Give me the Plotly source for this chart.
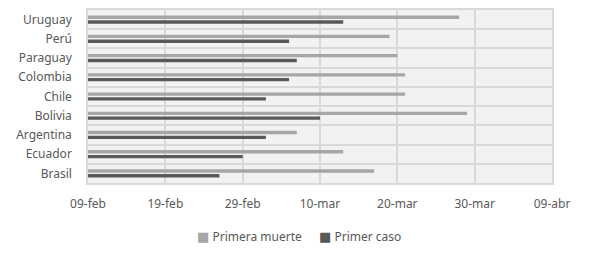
import plotly.graph_objects as go

countries = ["Brasil", "Ecuador", "Argentina", "Bolivia", "Chile", "Colombia", "Paraguay", "Perú", "Uruguay"]
primera_muerte = ["2020-03-17", "2020-03-13", "2020-03-07", "2020-03-29", "2020-03-21",
                  "2020-03-21", "2020-03-20", "2020-03-19", "2020-03-28"]
primer_caso = ["2020-02-26", "2020-02-29", "2020-03-03", "2020-03-10", "2020-03-03",
               "2020-03-06", "2020-03-07", "2020-03-06", "2020-03-13"]
tick_dates = ["2020-02-09", "2020-02-19", "2020-02-29", "2020-03-10", "2020-03-20", "2020-03-30", "2020-04-09"]
tick_labels = ["09-feb", "19-feb", "29-feb", "10-mar", "20-mar", "30-mar", "09-abr"]
series_names = ["Primera muerte", "Primer caso"]
series_colors = ["#a6a6a6", "#595959"]

ypos = list(range(len(countries)))
boundaries = [i - 0.5 for i in range(len(countries) + 1)]

FONT = "Noto Sans"
TXT = "#595959"

fig = go.Figure()
fig.add_trace(go.Bar(y=ypos, x=primer_caso, orientation="h", name=series_names[1],
                     marker=dict(color=series_colors[1], line=dict(width=0))))
fig.add_trace(go.Bar(y=ypos, x=primera_muerte, orientation="h", name=series_names[0],
                     marker=dict(color=series_colors[0], line=dict(width=0))))

legend_x = [0.2305, 0.4935]
for name, col, lx in zip(series_names, series_colors, legend_x):
    fig.add_annotation(xref="paper", yref="paper", x=lx, y=-0.309, xanchor="left", yanchor="middle",
                       showarrow=False,
                       text=f"<span style='color:{col};font-family:DejaVu Sans;font-size:13px'>■</span> {name}",
                       font=dict(family=FONT, size=12, color=TXT))

fig.update_layout(
    width=589, height=256,
    margin=dict(l=80, r=45, t=0, b=81),
    paper_bgcolor="white", plot_bgcolor="#f2f2f2",
    barmode="group", bargap=0.5, bargroupgap=0.3,
    font=dict(family=FONT, size=12, color=TXT),
    showlegend=False,
    xaxis=dict(type="date", range=[tick_dates[0], tick_dates[-1]],
               tickvals=tick_dates, ticktext=tick_labels,
               showgrid=True, gridcolor="#d9d9d9", gridwidth=1.5,
               showline=True, linecolor="#d9d9d9", linewidth=1.5, mirror=True,
               ticks="", zeroline=False, ticklabelstandoff=9,
               tickfont=dict(size=12, color=TXT)),
    yaxis=dict(range=[-0.5, len(countries) - 0.5], tickvals=ypos, ticktext=countries,
               showgrid=False, zeroline=False,
               showline=True, linecolor="#d9d9d9", linewidth=1.5, mirror=True,
               ticks="", ticklabelstandoff=12, tickfont=dict(size=12, color=TXT),
               minor=dict(tickvals=boundaries, showgrid=True, gridcolor="#d9d9d9",
                          gridwidth=1.5, ticks="")),
)

fig.write_html("out.html")
